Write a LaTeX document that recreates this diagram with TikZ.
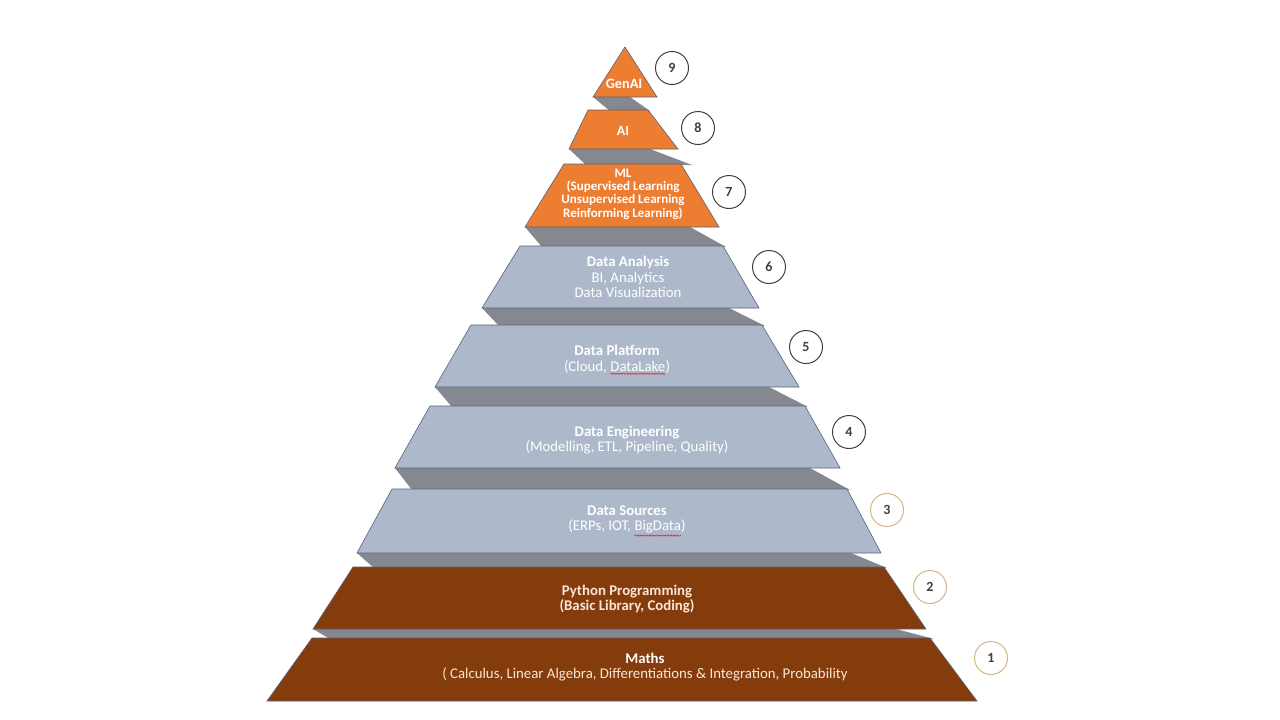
\documentclass[tikz,border=0pt]{standalone}
\usepackage{fontspec}
\setmainfont{Carlito}
\usetikzlibrary{decorations.pathmorphing}
\definecolor{orng}{HTML}{ED7D31}
\definecolor{brwn}{HTML}{843C0C}
\definecolor{bgrey}{HTML}{ADB9CA}
\definecolor{slab}{HTML}{85888E}
\definecolor{edge}{HTML}{56627A}
\definecolor{ringdark}{HTML}{3F3F3F}
\definecolor{ringtan}{HTML}{D4B48A}
\definecolor{cream}{HTML}{FBE5D6}
\newcommand\squig[1]{\tikz[baseline=(w.base)]{\node[inner sep=0pt,outer sep=0pt](w){#1};\draw[red,line width=0.5pt,decorate,decoration={snake,amplitude=0.7pt,segment length=3pt}] ([yshift=-2.4pt]w.south west)--([yshift=-2.4pt]w.south east);}}
\tikzset{
  slabface/.style={fill=slab,draw=none},
  orangelayer/.style={fill=orng,draw=edge,line width=0.6pt},
  greylayer/.style={fill=bgrey,draw=edge,line width=0.6pt},
  brownlayer/.style={fill=brwn,draw=edge,line width=0.6pt},
  smalltxt/.style={text=white,align=center,inner sep=0pt,font=\fontsize{13}{13.4}\selectfont\bfseries},
  bigtxt/.style={text=white,align=center,inner sep=0pt,font=\fontsize{14.8}{15.5}\selectfont},
  ring/.style={circle,draw=ringdark,line width=1pt,minimum size=33pt,inner sep=0pt,text=ringdark,font=\fontsize{14}{16}\selectfont\bfseries},
  tanring/.style={ring,draw=ringtan},
}
\begin{document}
\begin{tikzpicture}[x=1pt,y=-1pt]
\fill[white] (0,0) rectangle (1280,720);
\useasboundingbox (0,0) rectangle (1280,720);
% slab faces (drawn first)
\fill[slabface] (593,97) -- (630,97) -- (650,111) -- (610,111) -- cycle;
\fill[slabface] (569,149) -- (650,149) -- (692,165) -- (586,165) -- cycle;
\fill[slabface] (525,227) -- (690,227) -- (726,247) -- (542,247) -- cycle;
\fill[slabface] (482,308) -- (729,308) -- (765,326) -- (499,326) -- cycle;
\fill[slabface] (435,387) -- (769,387) -- (808,407) -- (452,407) -- cycle;
\fill[slabface] (395,468) -- (810,468) -- (850,490) -- (412,490) -- cycle;
\fill[slabface] (357,553) -- (851,553) -- (887,568) -- (374,568) -- cycle;
\fill[slabface] (313,629) -- (896,629) -- (934,639) -- (330,639) -- cycle;
% layers
\draw[orangelayer] (625,47) -- (657,97) -- (593,97) -- cycle;
\draw[orangelayer] (588,110) -- (648,110) -- (678,149) -- (569,149) -- cycle;
\draw[orangelayer] (564,164) -- (681,164) -- (719,227) -- (525,227) -- cycle;
\draw[greylayer] (520,246) -- (723,246) -- (759,308) -- (482,308) -- cycle;
\draw[greylayer] (471,325) -- (762,325) -- (799,387) -- (435,387) -- cycle;
\draw[greylayer] (430,406) -- (805,406) -- (840,468) -- (395,468) -- cycle;
\draw[greylayer] (392,489) -- (847,489) -- (881,553) -- (357,553) -- cycle;
\draw[brownlayer] (353,567) -- (884,567) -- (926,629) -- (313,629) -- cycle;
\draw[brownlayer] (312,638) -- (930,638) -- (977,701) -- (267,701) -- cycle;
% texts
\node[smalltxt,font=\fontsize{14.3}{15}\selectfont\bfseries] (t9) at (624,84) {GenAI};
\node[smalltxt,font=\fontsize{14}{15}\selectfont\bfseries] (t8) at (623,131) {AI};
\node[smalltxt] (t7) at (623,194) {ML\\(Supervised Learning\\Unsupervised Learning\\Reinforming Learning)};
\node[bigtxt] (t6) at (628,277) {\textbf{Data Analysis}\\BI, Analytics\\Data Visualization};
\node[bigtxt] (t5) at (617,360) {\textbf{Data Platform}\\(Cloud, \squig{DataLake})};
\node[bigtxt] (t4) at (627,440) {\textbf{Data Engineering}\\(Modelling, ETL, Pipeline, Quality)};
\node[bigtxt] (t3) at (627,521) {\textbf{Data Sources}\\(ERPs, IOT, \squig{BigData})};
\node[bigtxt,text=cream,font=\fontsize{14.8}{15.5}\selectfont\bfseries] (t2) at (627,599) {Python Programming\\(Basic Library, Coding)};
\node[bigtxt,text=cream] (t1) at (645,667) {\textbf{\color{white}Maths}\\( Calculus, Linear Algebra, Differentiations \& Integration, Probability};
% number rings
\node[ring] (n9) at (672,68) {9};
\node[ring] (n8) at (698,128) {8};
\node[ring] (n7) at (729,192) {7};
\node[ring] (n6) at (769,267) {6};
\node[ring] (n5) at (806,347) {5};
\node[ring] (n4) at (849,432) {4};
\node[tanring] (n3) at (887,510) {3};
\node[tanring] (n2) at (930,587) {2};
\node[tanring] (n1) at (991,658) {1};
\end{tikzpicture}
\end{document}
